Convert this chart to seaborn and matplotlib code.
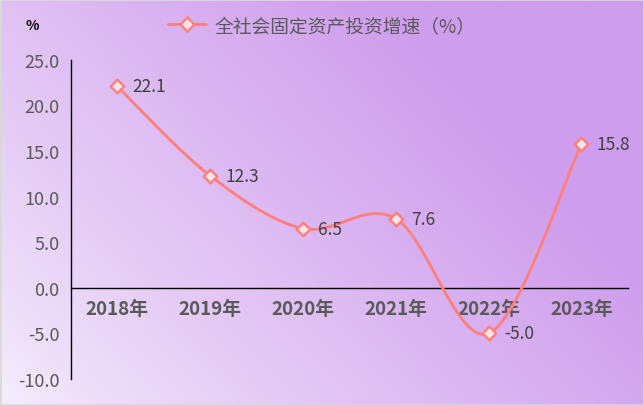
import numpy as np
import pandas as pd
import seaborn as sns
import matplotlib.pyplot as plt
from matplotlib.patches import Rectangle
from matplotlib.lines import Line2D

years = ['2018年', '2019年', '2020年', '2021年', '2022年', '2023年']
growth = [22.1, 12.3, 6.5, 7.6, -5.0, 15.8]
legend_label = '全社会固定资产投资增速（%）'

sns.set_style('white')
plt.rcParams['font.family'] = ['Noto Sans CJK SC', 'DejaVu Sans']
plt.rcParams['axes.unicode_minus'] = False


def smooth_curve(xs, ys, n=40):
    # excel style smoothed line: bezier segments with catmull-rom tangents
    pts = np.column_stack([xs, ys]).astype(float)
    out = []
    for i in range(len(pts) - 1):
        p0 = pts[max(i - 1, 0)]
        p1 = pts[i]
        p2 = pts[i + 1]
        p3 = pts[min(i + 2, len(pts) - 1)]
        c1 = p1 + (p2 - p0) / 6
        c2 = p2 - (p3 - p1) / 6
        t = np.linspace(0, 1, n)[:, None]
        seg = (1 - t) ** 3 * p1 + 3 * (1 - t) ** 2 * t * c1 + 3 * (1 - t) * t ** 2 * c2 + t ** 3 * p2
        out.append(seg if i == 0 else seg[1:])
    return np.vstack(out)


fig = plt.figure(figsize=(6.44, 4.06), dpi=100)

# gradient background
bg = fig.add_axes([0, 0, 1, 1], zorder=-5)
u, v = np.meshgrid(np.linspace(0, 1, 300), np.linspace(1, 0, 200))
t = np.clip(0.85 * u + 0.5 * v, 0, 1) ** 0.85
t = t[..., None]
light = np.array([245, 238, 252]) / 255
dark = np.array([207, 157, 237]) / 255
bg.imshow(light + (dark - light) * t, aspect='auto', extent=[0, 1, 0, 1])
bg.axis('off')

ax = fig.add_axes([0.110, 0.064, 0.865, 0.786])
ax.patch.set_alpha(0)

xs = np.arange(len(years))
curve = smooth_curve(xs, growth)
df_curve = pd.DataFrame({'x': curve[:, 0], 'y': curve[:, 1]})
df_pts = pd.DataFrame({'x': xs, 'y': growth})

sns.lineplot(data=df_curve, x='x', y='y', ax=ax, color='#ff8080', linewidth=2.1,
             sort=False, estimator=None, zorder=3)
sns.scatterplot(data=df_pts, x='x', y='y', ax=ax, marker='D', s=48,
                facecolor='#ffe4e4', edgecolor='#ff8080', linewidth=1.8, zorder=4)

for x, y in zip(xs, growth):
    ax.annotate(f'{y:.1f}', (x, y), xytext=(11, 0), textcoords='offset points',
                va='center', ha='left', fontsize=12.5, color='#404040')

# spine position first: it resets the tick objects
for s in ['top', 'right']:
    ax.spines[s].set_visible(False)
ax.spines['bottom'].set_position(('data', 0))
ax.spines['bottom'].set_color('black')
ax.spines['left'].set_color('black')
ax.spines['left'].set_linewidth(1)
ax.spines['bottom'].set_linewidth(1)

ax.set_xlim(-0.5, 5.5)
ax.set_ylim(-10, 25)
ax.set_yticks(np.arange(-10, 26, 5))
ax.set_yticklabels([f'{v:.1f}' for v in np.arange(-10, 26, 5)])
ax.set_xticks(xs)
ax.set_xticklabels(years)
ax.set_xticks(np.arange(0.5, 6, 1), minor=True)
ax.tick_params(axis='x', which='major', length=0, pad=8, labelsize=13.5, labelcolor='#595959')
ax.tick_params(axis='x', which='minor', length=5, width=1, direction='out', color='black')
ax.tick_params(axis='y', length=0, pad=8, labelsize=13, labelcolor='#595959')
ax.set_xlabel('')
ax.set_ylabel('')

for lab in ax.get_xticklabels():
    lab.set_fontweight('bold')

handle = Line2D([], [], color='#ff8080', linewidth=2.1, marker='D', markersize=7,
                markerfacecolor='#ffe4e4', markeredgecolor='#ff8080', markeredgewidth=1.8)
fig.legend([handle], [legend_label], loc='center', bbox_to_anchor=(0.5, 0.935),
           frameon=False, fontsize=13.5, labelcolor='#595959', handlelength=2, handletextpad=0.5)

fig.text(0.05, 0.935, '%', fontsize=10, fontweight='bold', color='black', ha='center', va='center')

fig.patches.append(Rectangle((0, 0), 1, 1, transform=fig.transFigure, fill=False,
                             edgecolor='#d9d9d9', linewidth=2))

fig.savefig('out.png', dpi=100)
